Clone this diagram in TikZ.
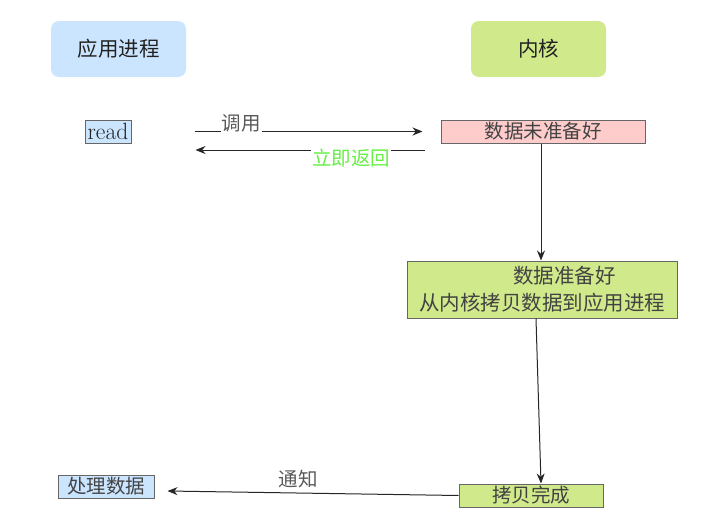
\documentclass[tikz,border=0pt]{standalone}
\usepackage{fontspec}
\newfontfamily\cjk{Noto Sans CJK SC}
\usetikzlibrary{arrows.meta}
\definecolor{appblue}{HTML}{CCE5FF}
\definecolor{kgreen}{HTML}{CFE98B}
\definecolor{npink}{HTML}{FFCCCC}
\definecolor{bord}{HTML}{666666}
\definecolor{retgreen}{HTML}{66F044}
\definecolor{txt}{HTML}{222222}
\tikzset{
  head/.style={rounded corners=8pt, minimum width=135pt, minimum height=56pt, inner sep=0pt, font=\cjk\fontsize{20.5}{24}\selectfont, text=txt},
  sbox/.style={draw=bord, line width=1pt, minimum height=23pt, inner sep=0pt, font=\cjk\fontsize{19.5}{22}\selectfont, text=txt!85},
  arr/.style={-{Stealth[length=10pt,width=8pt]}, line width=1pt, draw=black!85},
  lbl/.style={font=\cjk\fontsize{19.5}{22}\selectfont, inner sep=1pt}
}
\begin{document}
\begin{tikzpicture}[x=1pt,y=-1pt]
\useasboundingbox (0,0) rectangle (718,525);
\node[head, fill=appblue] (app) at (118.5,49) {应用进程};
\node[head, fill=kgreen] (kern) at (538.5,49) {内核};
\node[sbox, fill=appblue, minimum width=46pt, text=txt, font=\fontsize{23.5}{24}\selectfont] (read) at (108,131.5) {read};
\node[sbox, fill=npink, minimum width=204pt] (notready) at (543,131.5) {数据未准备好};
\node[sbox, fill=kgreen, minimum width=270pt, minimum height=57pt, align=left, font=\cjk\fontsize{20.5}{27}\selectfont] (ready) at (542,289.5) {\hspace*{4.6em}数据准备好\\从内核拷贝数据到应用进程};
\node[sbox, fill=kgreen, minimum width=144pt] (done) at (531,495.5) {拷贝完成};
\node[sbox, fill=appblue, minimum width=96pt] (proc) at (106,486.5) {处理数据};
% call
\draw[arr] ([xshift=63pt]read.east) -- ([xshift=-18pt]notready.west);
\node[lbl, fill=white, text=txt!75] (call) at (241,123) {调用};
% return
\draw[arr] ([xshift=-16pt,yshift=-18.5pt]notready.west) -- ([xshift=64pt,yshift=-18.5pt]read.east);
\node[lbl, fill=white, text=retgreen] (ret) at (351,158) {立即返回};
% down arrows
\draw[arr] ([xshift=-2pt]notready.south) -- ([xshift=-1pt]ready.north);
\draw[arr] ([xshift=-6pt]ready.south) -- ([xshift=10pt]done.north);
% notify
\draw[arr] (done.west) -- ([xshift=13pt,yshift=-4.5pt]proc.east);
\node[lbl, text=txt!75] (notify) at (298,479) {通知};
\end{tikzpicture}
\end{document}
